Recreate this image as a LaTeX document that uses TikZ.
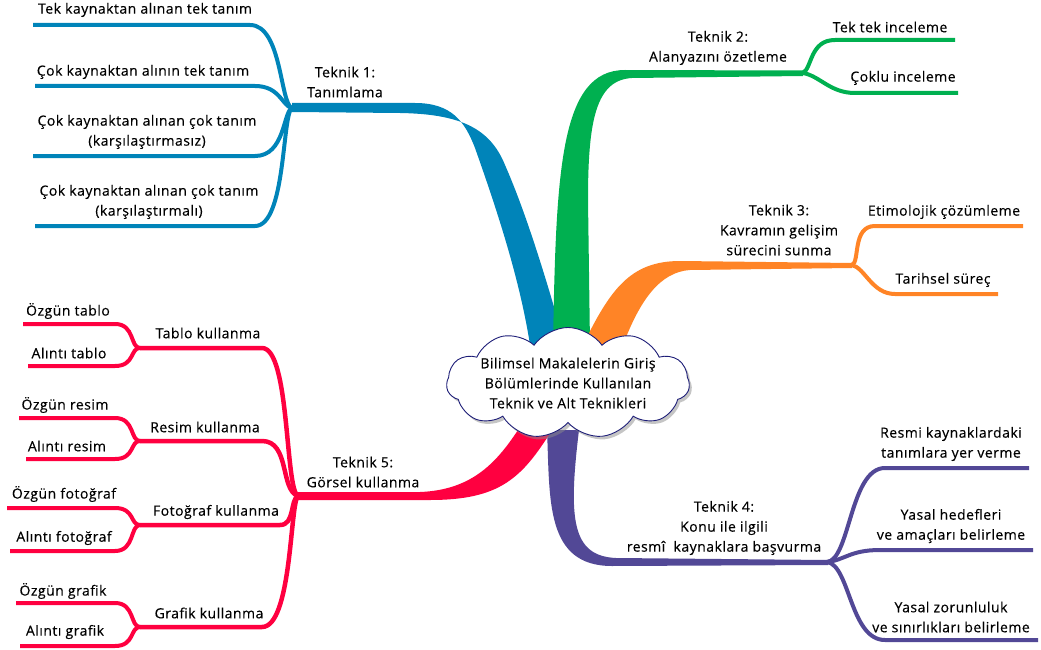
\documentclass[tikz,border=0pt]{standalone}
\usepackage{fontspec}
\setmainfont{Open Sans}[LetterSpace=3.5, FakeBold=0.3]
\usetikzlibrary{shapes.symbols,shadows}

\definecolor{cblue}{RGB}{0,132,185}
\definecolor{cgreen}{RGB}{0,176,80}
\definecolor{corange}{RGB}{255,132,38}
\definecolor{cred}{RGB}{255,0,64}
\definecolor{cpurple}{RGB}{82,72,150}
\definecolor{cnavy}{RGB}{30,30,120}

\tikzset{
  lbl/.style={font=\fontsize{14}{20}\selectfont, align=center, inner sep=0pt, text=black},
  leaf/.style={line width=4pt, line cap=butt},
  sub/.style={line width=4.5pt, line cap=butt},
}

\begin{document}
\begin{tikzpicture}[x=1pt,y=-1pt]
\useasboundingbox (0,0) rectangle (1041,650);

% hubs where each main branch splits
\coordinate (hb) at (292,108);
\coordinate (hg) at (803,73);
\coordinate (ho) at (852,265);
\coordinate (hp) at (827,562);
\coordinate (hr) at (298,496);
\coordinate (st) at (140,348);
\coordinate (sr) at (140,441);
\coordinate (sf) at (140,525);
\coordinate (sg) at (140,627);

% tapered main branches
\fill[cblue] (292,103) -- (415,103) .. controls (452,103) and (465,122) .. (475,148)
  .. controls (497,210) and (520,280) .. (530,345) -- (565,345)
  .. controls (548,285) and (527,215) .. (505,165)
  .. controls (490,128) and (460,114) .. (400,113) -- (292,112) -- cycle;
\fill[cgreen] (553,345) .. controls (556,170) and (560,70) .. (625,70) -- (803,70.5)
  -- (803,76) -- (632,78) .. controls (596,80) and (588,120) .. (588,200) -- (590,345) -- cycle;
\fill[corange] (583,345) .. controls (610,290) and (630,261) .. (680,261) -- (852,263)
  -- (852,268) -- (690,270) .. controls (660,272) and (640,300) .. (623,345) -- cycle;
\fill[cpurple] (547,430) .. controls (550,500) and (545,566) .. (612,566) -- (828,565)
  -- (828,560) -- (616,558) .. controls (572,556) and (568,520) .. (579,430) -- cycle;
\fill[cred] (298,492) -- (420,492) .. controls (470,490) and (495,465) .. (518,430)
  -- (552,430) .. controls (522,478) and (500,500) .. (430,500) -- (298,500) -- cycle;

% Teknik 1 leaves
\draw[cblue, leaf] (hb) .. controls (280,104) and (282,25) .. (250,25) -- (33,25);
\draw[cblue, leaf] (hb) .. controls (282,106) and (280,86) .. (255,86) -- (35,86);
\draw[cblue, leaf] (hb) .. controls (283,112) and (285,156) .. (255,156) -- (33,156);
\draw[cblue, leaf] (hb) .. controls (282,114) and (286,226) .. (255,226) -- (35,226);

% Teknik 2 leaves
\draw[cgreen, leaf] (hg) .. controls (812,68) and (810,40) .. (835,40) -- (955,40);
\draw[cgreen, leaf] (hg) .. controls (820,76) and (830,93) .. (855,93) -- (958,93);

% Teknik 3 leaves
\draw[corange, leaf] (ho) .. controls (860,262) and (852,226) .. (875,226) -- (1023,226);
\draw[corange, leaf] (ho) .. controls (865,268) and (872,294) .. (895,294) -- (998,294);

% Teknik 4 leaves
\draw[cpurple, leaf] (hp) .. controls (850,560) and (850,468) .. (885,468) -- (1029,468);
\draw[cpurple, leaf] (hp) .. controls (845,560) and (850,550) .. (880,550) -- (1033,550);
\draw[cpurple, leaf] (hp) .. controls (850,565) and (850,640) .. (885,640) -- (1038,640);

% Teknik 5 sub-branches
\draw[cred, sub] (hr) .. controls (285,490) and (290,348) .. (262,348) -- (st);
\draw[cred, sub] (hr) .. controls (280,490) and (290,441) .. (262,441) -- (sr);
\draw[cred, sub] (hr) .. controls (290,500) and (295,525) .. (280,525) -- (sf);
\draw[cred, sub] (hr) .. controls (290,502) and (292,627) .. (262,627) -- (sg);

% Teknik 5 leaves
\foreach \s/\ya/\xa/\yb/\xb in {st/324/23/366/28, sr/418/19/459/26, sf/508/7/551/10, sg/603/16/646/20}{
  \draw[cred, leaf] (\s) .. controls ([xshift=-10pt]\s) and (135,\ya) .. (115,\ya) -- (\xa,\ya);
  \draw[cred, leaf] (\s) .. controls ([xshift=-10pt]\s) and (135,\yb) .. (115,\yb) -- (\xb,\yb);
}

% central cloud
\node[cloud, cloud puffs=11, cloud puff arc=110, aspect=2.2, draw=cnavy, fill=white,
  line width=0.9pt, minimum width=243pt, minimum height=111pt, inner sep=0pt,
  drop shadow={shadow xshift=2.5pt, shadow yshift=-3pt, fill=black!45}] (center) at (568,383) {};
\node[lbl] (centertext) at (568,383) {Bilimsel Makalelerin Giriş\\Bölümlerinde Kullanılan\\Teknik ve Alt Teknikleri};

% labels
\node[lbl] (t1) at (345,82) {Teknik 1:\\Tanımlama};
\node[lbl] (t1a) at (145,10) {Tek kaynaktan alınan tek tanım};
\node[lbl] (t1b) at (143,72) {Çok kaynaktan alının tek tanım};
\node[lbl] (t1c) at (147,132) {Çok kaynaktan alınan çok tanım\\(karşılaştırmasız)};
\node[lbl] (t1d) at (149,202) {Çok kaynaktan alınan çok tanım\\(karşılaştırmalı)};

\node[lbl] (t2) at (718,48) {Teknik 2:\\Alanyazını özetleme};
\node[lbl] (t2a) at (890,27) {Tek tek inceleme};
\node[lbl] (t2b) at (903,78) {Çoklu inceleme};

\node[lbl] (t3) at (779,230) {Teknik 3:\\Kavramın gelişim\\sürecini sunma};
\node[lbl] (t3a) at (944,212) {Etimolojik çözümleme};
\node[lbl] (t3b) at (943,280) {Tarihsel süreç};

\node[lbl] (t4) at (724,528) {Teknik 4:\\Konu ile ilgili\\resmî\ \ kaynaklara başvurma};
\node[lbl] (t4a) at (951,444) {Resmi kaynaklardaki\\tanımlara yer verme};
\node[lbl] (t4b) at (951,526) {Yasal hedefleri\\ve amaçları belirleme};
\node[lbl] (t4c) at (951,617) {Yasal zorunluluk\\ve sınırlıkları belirleme};

\node[lbl] (t5) at (363,472) {Teknik 5:\\Görsel kullanma};
\node[lbl] (t5a) at (208,333) {Tablo kullanma};
\node[lbl] (t5b) at (205,427) {Resim kullanma};
\node[lbl] (t5c) at (216,512) {Fotoğraf kullanma};
\node[lbl] (t5d) at (209,613) {Grafik kullanma};
\node[lbl] (t5a1) at (68,311) {Özgün tablo};
\node[lbl] (t5a2) at (69,353) {Alıntı tablo};
\node[lbl] (t5b1) at (65,405) {Özgün resim};
\node[lbl] (t5b2) at (67,446) {Alıntı resim};
\node[lbl] (t5c1) at (64,494) {Özgün fotoğraf};
\node[lbl] (t5c2) at (64,538) {Alıntı fotoğraf};
\node[lbl] (t5d1) at (63,591) {Özgün grafik};
\node[lbl] (t5d2) at (65,632) {Alıntı grafik};
\end{tikzpicture}
\end{document}
